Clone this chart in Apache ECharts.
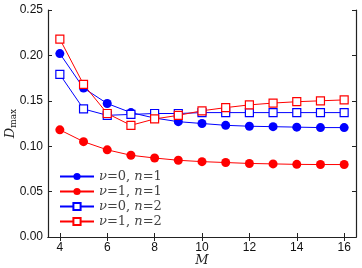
<!DOCTYPE html>
<html><head><meta charset="utf-8">
<script src="https://cdn.jsdelivr.net/npm/echarts@6/dist/echarts.min.js"></script>
<style>html,body{margin:0;padding:0;background:#fff}#c{width:362px;height:268px}</style>
</head><body><div id="c"></div>
<script>
const M = [4,5,6,7,8,9,10,11,12,13,14,15,16];
const xTicks = [4,6,8,10,12,14,16];
const v0n1 = [0.202,0.164,0.147,0.137,0.131,0.127,0.125,0.123,0.122,0.1215,0.121,0.1205,0.1205];
const v1n1 = [0.118,0.105,0.096,0.090,0.087,0.0845,0.083,0.082,0.081,0.0805,0.080,0.0798,0.0798];
const v0n2 = [0.179,0.141,0.134,0.135,0.136,0.136,0.137,0.137,0.137,0.137,0.137,0.137,0.137];
const v1n2 = [0.218,0.168,0.136,0.123,0.130,0.134,0.139,0.1425,0.1455,0.1475,0.149,0.150,0.151];
const names = ['ν=0, n=1','ν=1, n=1','ν=0, n=2','ν=1, n=2'];

const pairs = v => M.map((m,i)=>[m, v[i]]);
const axisLine = {show:true, lineStyle:{color:'#222', width:1.2}};
const tick = {show:true, inside:true, length:4, lineStyle:{color:'#222', width:1}};
const lblFont = {fontFamily:'Liberation Sans, Arial, sans-serif', fontSize:12, color:'#111'};

function mk(name, v, color, filled){
  return {
    name, type:'line', data: pairs(v),
    symbol: filled ? 'circle' : 'rect',
    symbolSize: filled ? 9 : 8,
    lineStyle:{color, width:1},
    itemStyle:{color: filled ? color : '#fff', borderColor: color, borderWidth: filled ? 0 : 1.2},
    emphasis:{disabled:true}, animation:false
  };
}

const chart = echarts.init(document.getElementById('c'));
chart.setOption({
  animation:false,
  grid:{left:48, right:6, top:10, bottom:31, containLabel:false, outerBoundsMode:'none'},
  legend:{
    left:59, top:170, orient:'vertical', padding:0, itemGap:2, itemWidth:34, itemHeight:9,
    data: names,
    formatter: n => {
      const m = n.match(/ν=(\d), n=(\d)/);
      return '{i|ν}{r|=' + m[1] + ', }{i|n}{r|=' + m[2] + '}';
    },
    textStyle:{
      rich:{
        i:{fontFamily:'DejaVu Serif, serif', fontStyle:'italic', fontSize:13, color:'#444'},
        r:{fontFamily:'DejaVu Serif, serif', fontSize:13, color:'#444'}
      }
    }
  },
  xAxis:[{
    type:'value', min:3.5, max:16.5, position:'bottom',
    axisLine, axisTick:{...tick, customValues:xTicks},
    axisLabel:{...lblFont, margin:5, customValues:xTicks},
    splitLine:{show:false},
    name:'M', nameLocation:'middle', nameGap:17, nameMoveOverlap:false,
    nameTextStyle:{fontFamily:'DejaVu Serif, serif', fontStyle:'italic', fontSize:13, color:'#222'}
  },{
    type:'value', min:3.5, max:16.5, position:'top',
    axisLine, axisTick:{...tick, customValues:xTicks},
    axisLabel:{show:false}, splitLine:{show:false}
  }],
  yAxis:[{
    type:'value', min:0, max:0.25, interval:0.05, position:'left',
    axisLine, axisTick:tick,
    axisLabel:{...lblFont, margin:5, formatter:v=>v.toFixed(2)},
    splitLine:{show:false},
    name:'{d|D}{s|max}', nameLocation:'middle', nameGap:30, nameRotate:90, nameMoveOverlap:false,
    nameTextStyle:{rich:{
      d:{fontFamily:'DejaVu Serif, serif', fontStyle:'italic', fontSize:13, color:'#222'},
      s:{fontFamily:'DejaVu Serif, serif', fontSize:9, color:'#222', verticalAlign:'bottom', padding:[6,0,0,0]}
    }}
  },{
    type:'value', min:0, max:0.25, interval:0.05, position:'right',
    axisLine, axisTick:tick, axisLabel:{show:false}, splitLine:{show:false}
  }],
  series:[
    mk(names[0], v0n1, '#0000ff', true),
    mk(names[1], v1n1, '#ff0000', true),
    mk(names[2], v0n2, '#0000ff', false),
    mk(names[3], v1n2, '#ff0000', false)
  ]
});
</script></body></html>
